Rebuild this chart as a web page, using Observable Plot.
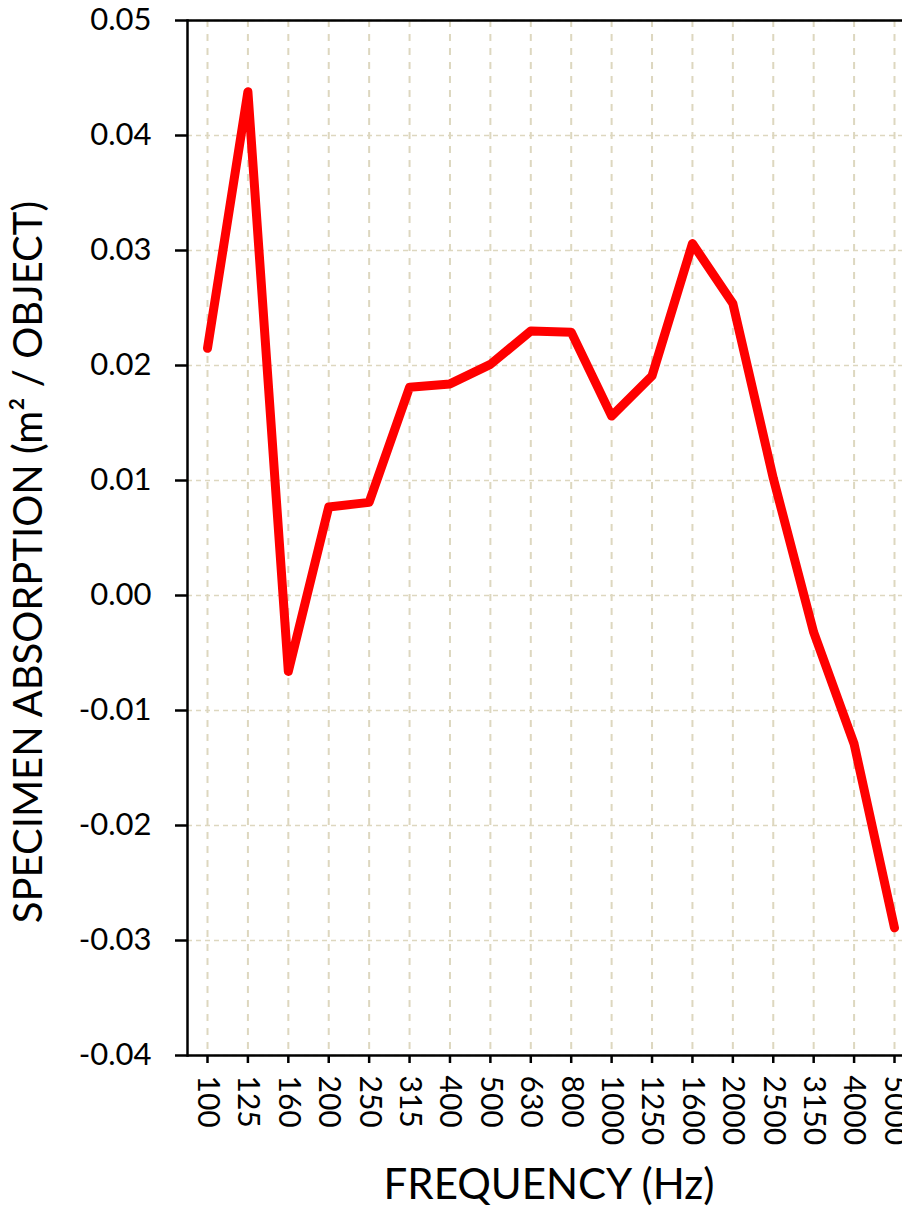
<!DOCTYPE html>
<html>
<head>
<meta charset="utf-8">
<script src="https://cdn.jsdelivr.net/npm/d3@7"></script>
<script src="https://cdn.jsdelivr.net/npm/@observablehq/plot@0.6"></script>
<style>
  html, body { margin: 0; padding: 0; background: #fff; }
  #chart svg { display: block; }
</style>
</head>
<body>
<div id="chart"></div>
<script>
const frequencies = ["100","125","160","200","250","315","400","500","630","800","1000","1250","1600","2000","2500","3150","4000","5000"];
const absorption = [0.0215, 0.0438, -0.0066, 0.0077, 0.0081, 0.0181, 0.0184, 0.0201, 0.0230, 0.0229, 0.0156, 0.0191, 0.0306, 0.0254, 0.0102, -0.0032, -0.0129, -0.0289];
const yTicks = [-0.04, -0.03, -0.02, -0.01, 0.00, 0.01, 0.02, 0.03, 0.04, 0.05];
const xTitle = "FREQUENCY (Hz)";
const yTitle = "SPECIMEN ABSORPTION (m\u00B2 / OBJECT)";

const data = frequencies.map((f, i) => ({f, v: absorption[i]}));
const grid = "#ddd7bf";

const chart = Plot.plot({
  width: 902,
  height: 1222,
  marginTop: 20,
  marginBottom: 167,
  marginLeft: 187,
  marginRight: 0,
  style: {fontFamily: "Lato, sans-serif", background: "#fff", color: "#000"},
  x: {type: "point", domain: frequencies, range: [207, 894], padding: 0, round: false},
  y: {domain: [-0.04, 0.05]},
  marks: [
    Plot.ruleX(frequencies, {x: d => d, stroke: grid, strokeWidth: 2, strokeDasharray: "7,7"}),
    Plot.ruleY(yTicks, {y: d => d, stroke: grid, strokeWidth: 1.5, strokeDasharray: "5,4"}),
    Plot.ruleY([yTicks[0], yTicks[yTicks.length - 1]], {y: d => d, stroke: "#000", strokeWidth: 2.5}),
    Plot.frame({anchor: "left", stroke: "#000", strokeWidth: 2.5}),
    Plot.axisY({ticks: yTicks, tickSize: 12, tickPadding: 24, tickFormat: d => d.toFixed(2), fontSize: 31, strokeWidth: 2.5, label: null}),
    Plot.axisX({tickSize: 8, tickPadding: 12, tickRotate: 90, fontSize: 30, strokeWidth: 2.5, label: null}),
    Plot.line(data, {x: "f", y: "v", stroke: "#ff0000", strokeWidth: 9, strokeLinejoin: "round", strokeLinecap: "round"}),
    Plot.text([yTitle], {text: d => d, frameAnchor: "left", textAnchor: "middle", rotate: -90, dx: -158, dy: 24, fontSize: 40, fill: "#000"}),
    Plot.text([xTitle], {text: d => d, frameAnchor: "bottom", textAnchor: "middle", dx: 4, dy: 143, fontSize: 42, fill: "#000"})
  ]
});
document.getElementById("chart").appendChild(chart);
</script>
</body>
</html>
